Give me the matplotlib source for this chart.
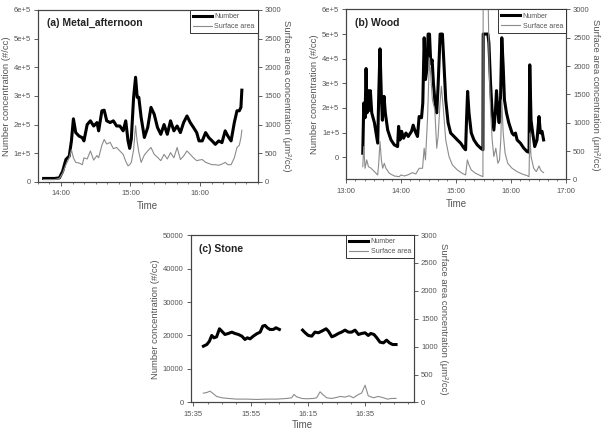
import numpy as np
import matplotlib
matplotlib.use("Agg")
import matplotlib.pyplot as plt
from matplotlib.ticker import MultipleLocator, FuncFormatter, FixedLocator
from matplotlib.lines import Line2D

# ---------------- data ----------------
# (a) Metal_afternoon : minutes after 13:00
a_time = [45, 50, 54.4, 58.6, 61.4, 64.2, 67.1, 69, 70.7, 72.7, 75.5, 78.4, 79.8, 82.6, 85.4, 88.2,
          91.1, 92.5, 95.3, 97.3, 99.5, 102.4, 105.2, 108, 110.8, 113.7, 115.9, 117.9, 119.3,
          120.7, 122.7, 124.4, 125.8, 127.2, 129.2, 132, 134.9, 137.7, 140.5, 143.3, 146.2, 149,
          151.8, 154.6, 157.5, 160.3, 163.1, 165.9, 168.8, 171.6, 174.4, 177.2, 179.2, 182, 184.9,
          187.7, 190.5, 193.3, 196.2, 199, 201.8, 204.1, 206.9, 209.7, 212, 214, 215.4, 216.2]
a_number = [12e3, 12e3, 12e3, 14e3, 37e3, 78e3, 90e3, 143e3, 220e3, 172e3, 160e3, 154e3, 143e3, 200e3,
            213e3, 195e3, 207e3, 178e3, 248e3, 250e3, 213e3, 207e3, 213e3, 195e3, 195e3, 178e3,
            213e3, 143e3, 117e3, 149e3, 295e3, 365e3, 295e3, 295e3, 225e3, 155e3, 190e3, 260e3,
            236e3, 190e3, 166e3, 200e3, 166e3, 213e3, 178e3, 195e3, 172e3, 207e3, 230e3, 207e3,
            190e3, 172e3, 143e3, 143e3, 172e3, 154e3, 143e3, 131e3, 143e3, 137e3, 178e3, 160e3,
            143e3, 207e3, 248e3, 248e3, 260e3, 320e3]
a_surface = [40, 40, 40, 60, 150, 300, 420, 560, 420, 340, 330, 300, 420, 400, 540, 380, 460, 420, 640,
             740, 660, 690, 580, 600, 540, 480, 360, 280, 300, 340, 560, 980, 700, 520, 340, 470,
             540, 600, 480, 430, 370, 480, 400, 510, 420, 600, 390, 450, 540, 480, 420, 370, 380,
             390, 340, 320, 300, 300, 290, 310, 340, 300, 300, 420, 600, 640, 770, 900]

# (b) Wood : minutes after 13:00
b_num_time = [18.1, 19.2, 20.6, 21.7, 22.8, 24.3, 25.3, 26.4, 27.9, 30.8, 34.4, 35.5, 36.9, 38.4, 39.5,
              41.3, 42.7, 45.3, 48.9, 52.5, 56.1, 57.2, 58.7, 60.5, 62.6, 65.2, 67.7, 71.3, 73.1,
              75.3, 77.8, 79.6, 82.2, 83.6, 85.1, 86.5, 88.0, 89.4, 90.9, 92.3, 93.8, 95.2, 97.0,
              98.8, 100.3, 102.5, 105.0, 106.8, 108.6, 111.2, 114.0, 117.7, 121.3, 124.9, 128.5,
              130.3, 131.4, 132.5, 134.0, 136.5, 139.4, 143.0, 146.6, 149.2, 149.5, 154.6, 155.7,
              157.5, 159.3, 161.1, 162.9, 164.0, 165.5, 166.9, 168.4, 169.8, 171.3, 172.7, 174.9,
              177.4, 181.0, 182.8, 184.7, 186.5, 190.1, 193.7, 197.3, 199.5, 200.3, 201.7, 203.5,
              205.7, 208.2, 210.4, 211.9, 213.7, 215.4]
b_number = [16e3, 220e3, 160e3, 360e3, 180e3, 270e3, 190e3, 270e3, 180e3, 140e3, 57e3, 247e3, 440e3,
            247e3, 150e3, 247e3, 180e3, 110e3, 70e3, 50e3, 43e3, 125e3, 70e3, 105e3, 77e3, 98e3,
            84e3, 105e3, 130e3, 105e3, 84e3, 165e3, 160e3, 220e3, 485e3, 315e3, 355e3, 500e3,
            500e3, 380e3, 395e3, 300e3, 220e3, 180e3, 290e3, 500e3, 500e3, 370e3, 233e3, 140e3,
            98e3, 84e3, 70e3, 57e3, 37e3, 30e3, 160e3, 267e3, 180e3, 98e3, 70e3, 50e3, 37e3, 30e3,
            500e3, 500e3, 465e3, 300e3, 180e3, 110e3, 190e3, 270e3, 190e3, 140e3, 233e3, 485e3,
            370e3, 233e3, 180e3, 140e3, 98e3, 90e3, 98e3, 70e3, 57e3, 37e3, 23e3, 20e3, 375e3,
            150e3, 98e3, 43e3, 70e3, 165e3, 98e3, 105e3, 70e3]
b_sa_time = [18.1, 19.2, 20.6, 22.4, 24.3, 27.2, 30.8, 34.4, 35.5, 36.9, 38.4, 39.8, 41.6, 43.4, 47.1,
             52.5, 57.9, 59.7, 63.4, 67.0, 72.4, 76.0, 79.6, 83.3, 85.1, 86.5, 88.7, 90.9, 92.3,
             94.1, 96.7, 98.8, 100.3, 102.5, 103.9, 106.1, 108.6, 112.2, 115.9, 121.3, 126.7,
             130.3, 132.2, 134.0, 136.5, 141.2, 146.6, 149.2, 149.5, 154.6, 156.0, 157.5, 159.3,
             161.1, 163.3, 165.5, 167.3, 168.7, 169.8, 171.3, 173.4, 176.3, 181.0, 186.5, 191.9,
             197.3, 199.5, 200.3, 201.7, 204.6, 207.5, 210.4, 212.5, 215.4]
b_surface = [224, 580, 195, 343, 224, 195, 136, 77, 283, 667, 343, 195, 283, 195, 106, 59, 47, 77, 59,
             77, 118, 94, 195, 195, 549, 343, 1051, 2144, 1819, 1405, 1228, 549, 756, 1376, 1642,
             1228, 697, 402, 254, 165, 106, 77, 343, 254, 165, 106, 65, 47, 3500, 3500, 1996, 1228,
             697, 402, 549, 283, 343, 697, 1405, 815, 461, 283, 195, 136, 94, 65, 47, 815, 402, 195,
             136, 236, 154, 118]

# (c) Stone : minutes after 15:35 (nan = gap in record)
c_num_time = [3.5, 4.7, 5.6, 6.4, 7.2, 8.1, 9.1, 9.9, 11.0, 12.2, 13.4, 14.5, 15.7, 16.9, 18.0, 18.8,
              19.8, 20.9, 22.1, 23.3, 24.2, 25.0, 25.8, 26.7, 27.9, 28.8, 30.0, 34.0,
              38.1, 39.0, 40.1, 41.3, 42.4, 43.6, 44.8, 46.3, 47.1, 48.3, 49.4, 50.6, 51.7, 52.9,
              54.1, 55.2, 56.4, 57.6, 58.7, 59.9, 61.0, 61.9, 63.0, 64.0, 65.1, 66.3, 67.4, 68.4,
              69.5, 70.7]
c_number = [16800, 17300, 18300, 20000, 19300, 19600, 22000, 21300, 20300, 20600, 21000, 20600, 20300,
            19800, 18800, 19300, 19000, 19800, 20500, 21000, 22800, 23000, 22300, 21800, 21800,
            22300, 21800, np.nan,
            21600, 20800, 20000, 19800, 21000, 20800, 21300, 22000, 21300, 19600, 20000, 20600,
            21000, 21600, 21000, 21000, 21600, 20300, 20600, 20800, 20000, 20600, 20300, 19300,
            18000, 17800, 18600, 17800, 17300, 17300]
c_sa_time = [3.5, 4.7, 5.8, 6.7, 8.1, 9.9, 12.2, 15.1, 18.6, 22.1, 25.6, 29.1, 32.6, 34.3, 35.1, 36.0,
             37.8, 39.5, 41.9, 43.0, 44.2, 45.1, 46.5, 48.3, 50.0, 51.2, 52.9, 54.4, 55.8, 57.6,
             58.7, 59.3, 59.9, 60.5, 61.0, 62.8, 64.5, 66.3, 67.7, 69.2, 70.7]
c_surface = [166, 178, 202, 166, 107, 83, 71, 59, 59, 53, 59, 59, 71, 83, 143, 101, 71, 65, 71, 83,
             190, 143, 83, 71, 89, 107, 95, 119, 83, 143, 166, 238, 309, 208, 119, 83, 107, 83, 59,
             71, 71]

titles = ["(a) Metal_afternoon", "(b) Wood", "(c) Stone"]

# ---------------- style ----------------
TXT = "#555555"
SPINE = "#444444"
SA_COL = "#8c8c8c"
plt.rcParams["font.family"] = ["Liberation Sans", "DejaVu Sans"]


def hfmt(x, pos):
    h = int(np.floor(x + 1e-9))
    m = int(round((x - h) * 60))
    if m == 60:
        h, m = h + 1, 0
    return f"{h}:{m:02d}"


def style(ax, ax2, xlabelpad=3):
    for a in (ax, ax2):
        for s in a.spines.values():
            s.set_color(SPINE)
            s.set_linewidth(0.8)
        a.tick_params(which="major", length=3, width=0.6, colors=SPINE, labelcolor=TXT,
                      labelsize=5.5, pad=2)
        a.tick_params(which="minor", length=1.6, width=0.5, colors=SPINE)
    ax.tick_params(axis="x", pad=3)
    ax2.set_ylim(0, 3000)
    ax2.yaxis.set_major_locator(MultipleLocator(500))
    ax2.set_ylabel("Surface area concentration (μm²/cc)", rotation=270, labelpad=7,
                   fontsize=6.8, color=TXT)
    ax.set_ylabel("Number concentration (#/cc)", fontsize=6.8, color=TXT, labelpad=2)
    ax.set_xlabel("Time", fontsize=7, color=TXT, labelpad=xlabelpad)
    ax.xaxis.set_major_formatter(FuncFormatter(hfmt))


def legend(ax2):
    h = [Line2D([], [], color="black", lw=2.2), Line2D([], [], color=SA_COL, lw=0.8)]
    lg = ax2.legend(h, ["Number", "Surface area"], loc="upper right", borderaxespad=0,
                    fontsize=5, fancybox=False, framealpha=1, edgecolor="#333333",
                    handlelength=2.7, handletextpad=0.4, borderpad=0.45, labelspacing=0.45)
    lg.get_frame().set_linewidth(0.7)
    for t in lg.get_texts():
        t.set_color(TXT)


def sci(x, pos):
    if x == 0:
        return "0"
    return f"{int(round(x / 1e5))}e+5"


fig = plt.figure(figsize=(6.01, 4.29), dpi=100)

# ---- (a)
ax = fig.add_axes([0.063, 0.576, 0.366, 0.401])
ax2 = ax.twinx()
ta = 13 + np.array(a_time) / 60
ax.plot(ta, a_number, color="black", lw=2.2, zorder=3)
ax2.plot(ta, a_surface, color=SA_COL, lw=0.8)
ax.set_zorder(ax2.get_zorder() + 1)
ax.patch.set_visible(False)
ax.set_xlim(13 + 40 / 60, 16 + 50 / 60)
ax.set_ylim(0, 6e5)
ax.yaxis.set_major_locator(MultipleLocator(1e5))
ax.yaxis.set_major_formatter(FuncFormatter(sci))
ax.xaxis.set_major_locator(FixedLocator([14, 15, 16]))
ax.xaxis.set_minor_locator(MultipleLocator(1 / 6))
style(ax, ax2)
ax.text(0.04, 0.925, titles[0], transform=ax.transAxes, fontsize=7.5, fontweight="bold",
        color="#222222", va="center")
legend(ax2)
ax2.set_zorder(ax.get_zorder() + 1)
ax2.patch.set_visible(False)

# ---- (b)
bx = fig.add_axes([0.576, 0.582, 0.366, 0.396])
bx2 = bx.twinx()
bx.plot(13 + np.array(b_num_time) / 60, b_number, color="black", lw=2.2, zorder=3)
bx2.plot(13 + np.array(b_sa_time) / 60, b_surface, color=SA_COL, lw=0.8)
bx.set_xlim(13, 17)
bx.set_ylim(-0.9e5, 6e5)
bx.yaxis.set_major_locator(FixedLocator([0, 1e5, 2e5, 3e5, 4e5, 5e5, 6e5]))
bx.yaxis.set_major_formatter(FuncFormatter(sci))
bx.xaxis.set_major_locator(MultipleLocator(1))
bx.xaxis.set_minor_locator(MultipleLocator(1 / 6))
style(bx, bx2)
bx.text(0.04, 0.92, titles[1], transform=bx.transAxes, fontsize=7.5, fontweight="bold",
        color="#222222", va="center")
legend(bx2)
bx2.set_zorder(bx.get_zorder() + 1)
bx2.patch.set_visible(False)

# ---- (c)
cx = fig.add_axes([0.317, 0.062, 0.372, 0.390])
cx2 = cx.twinx()
cx.plot(15 + (35 + np.array(c_num_time)) / 60, c_number, color="black", lw=2.2, zorder=3)
cx2.plot(15 + (35 + np.array(c_sa_time)) / 60, c_surface, color=SA_COL, lw=0.8)
cx.set_xlim(15 + 34 / 60, 16 + 52 / 60)
cx.set_ylim(0, 50000)
cx.yaxis.set_major_locator(MultipleLocator(10000))
cx.xaxis.set_major_locator(FixedLocator([15 + 35 / 60, 15 + 55 / 60, 16 + 15 / 60, 16 + 35 / 60]))
cx.xaxis.set_minor_locator(FixedLocator([15 + m / 60 for m in range(35, 113, 5)]))
style(cx, cx2, xlabelpad=1.5)
cx.text(0.04, 0.918, titles[2], transform=cx.transAxes, fontsize=7.5, fontweight="bold",
        color="#222222", va="center")
legend(cx2)
cx2.set_zorder(cx.get_zorder() + 1)
cx2.patch.set_visible(False)

fig.savefig("out.png", dpi=100)
